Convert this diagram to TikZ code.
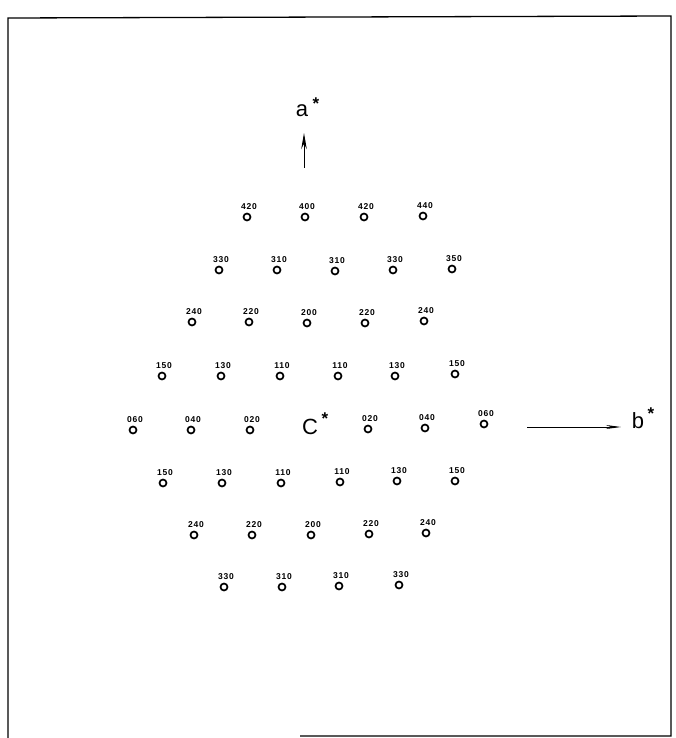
\documentclass[tikz,border=0pt]{standalone}
\usepackage{fontspec}
\usepackage{tikz}
\usetikzlibrary{arrows.meta}
\setmainfont{Liberation Sans}
\newfontfamily\idxfont[LetterSpace=8]{Liberation Sans}

\begin{document}
\begin{tikzpicture}[x=1pt,y=-1pt]
      \tikzstyle{spot}=[circle, draw=black, line width=1.7pt, minimum size=7pt, inner sep=0pt]
      \tikzstyle{idx}=[inner sep=0pt, font=\idxfont\fontsize{8.5}{9}\selectfont\bfseries]
      \tikzstyle{axis}=[font=\fontsize{22}{24}\selectfont]
      \tikzstyle{star}=[inner sep=0pt, font=\fontsize{17}{17}\selectfont\bfseries]
      \useasboundingbox (0,0) rectangle (675,738);
      % frame
      \draw[line width=1.3pt] (300,736) -- (671,736) -- (671,16) -- (8,18) -- (8,738);
      % reciprocal lattice spots
      \foreach \n/\x/\y/\l in {
          a/247/217/420, b/305/217/400, c/364/217/420, d/423/216/440,
          e/219/270/330, f/277/270/310, g/335/271/310, h/393/270/330, i/452/269/350,
          j/192/322/240, k/249/322/220, l/307/323/200, m/365/323/220, n/424/321/240,
          o/162/376/150, p/221/376/130, q/280/376/110, r/338/376/110, s/395/376/130, t/455/374/150,
          u/133/430/060, v/191/430/040, w/250/430/020, x/368/429/020, y/425/428/040, z/484/424/060,
          aa/163/483/150, ab/222/483/130, ac/281/483/110, ad/340/482/110, ae/397/481/130, af/455/481/150,
          ag/194/535/240, ah/252/535/220, ai/311/535/200, aj/369/534/220, ak/426/533/240,
          al/224/587/330, am/282/587/310, an/339/586/310, ao/399/585/330} {
        \node[spot] (s\n) at (\x,\y) {};
        \node[idx] (l\n) at (\x+2,\y-10) {\l};
      }
      \node[axis] (cs) at (310,427) {C};
      \node[star] (csx) at (325,419) {*};
      % axes
      \coordinate (aend) at (304,133);
      \coordinate (bend) at (621,427);
      \node (abase) at (304,168) {};
      \node (bbase) at (527,427) {};
      \draw[-{Stealth[length=16pt,width=5.5pt]}, line width=1pt] (abase.center) -- (aend);
      \draw[-{Stealth[length=15pt,width=4pt]}, line width=0.9pt] (bbase.center) -- (bend);
      \node[axis] (astar) at (302,111) {a};
      \node[star] (asx) at (316,104) {*};
      \node[axis] (bstar) at (638,421) {b};
      \node[star] (bsx) at (651,414) {*};
    \end{tikzpicture}
\end{document}
